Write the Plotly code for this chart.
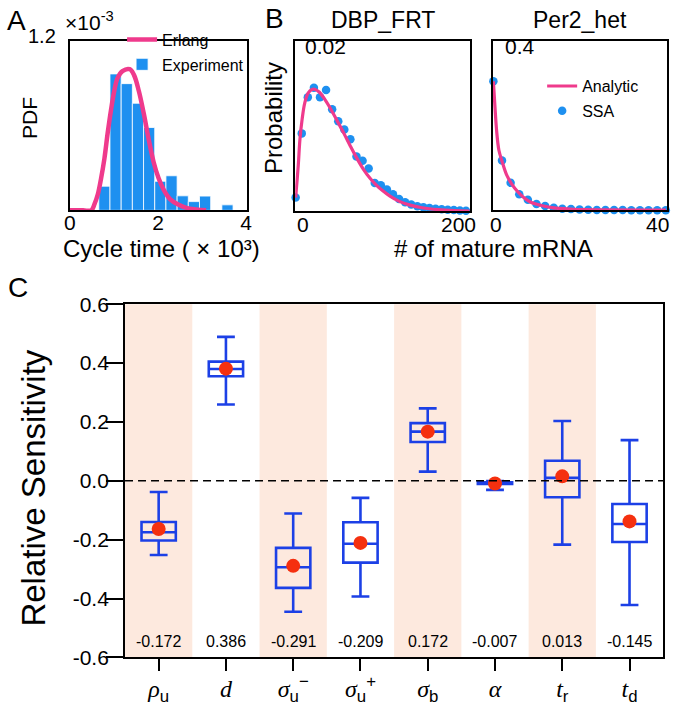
import plotly.graph_objects as go

W, H = 677, 709
FONT = "Liberation Sans, Arial, Helvetica, sans-serif"
SERIF = "Liberation Serif, Times New Roman, serif"

# ---------------- Panel A data (cycle time, x10^3) ----------------
hist_centers = [0.782, 1.036, 1.290, 1.544, 1.798, 2.052, 2.306, 2.560, 2.814, 3.068, 3.322, 3.576]
hist_pdf = [0.171, 0.967, 0.898, 0.759, 0.587, 0.206, 0.245, 0.103, 0.062, 0.101, 0.0, 0.039]
hist_binwidth = 0.254
erlang_x = [0.0, 0.30, 0.484, 0.559, 0.633, 0.708, 0.782, 0.857, 0.931, 1.006, 1.080, 1.192,
            1.356, 1.453, 1.564, 1.676, 1.788, 1.899, 2.011, 2.123, 2.272, 2.458, 2.644, 2.868, 3.091]
erlang_pdf = [0.0, 0.0, 0.0, 0.046, 0.114, 0.229, 0.366, 0.549, 0.709, 0.846, 0.937, 0.987,
              1.0, 0.960, 0.846, 0.686, 0.503, 0.343, 0.229, 0.149, 0.080, 0.041, 0.018, 0.007, 0.0]
a_xtickvals = [0, 2, 4]

# ---------------- Panel B data ----------------
dbp_ssa_n = [0, 7, 14, 21, 28, 35, 42, 49, 56, 63, 70, 77, 84, 91, 98, 105, 112, 119, 126,
             133, 140, 147, 154, 161, 168, 175, 182, 189, 196]
dbp_ssa_p = [0.00163, 0.00920, 0.01345, 0.01458, 0.01345, 0.01432, 0.01205, 0.01064, 0.00966,
             0.00852, 0.00648, 0.00598, 0.00504, 0.00333, 0.00307, 0.00258, 0.00201, 0.00144,
             0.00106, 0.00080, 0.00061, 0.00049, 0.00038, 0.00030, 0.00023, 0.00019, 0.00015,
             0.00011, 0.00008]
dbp_an_n = [0, 3.0, 4.9, 7.5, 10.5, 14.3, 18.8, 22.5, 27.4, 33.0, 40.5, 48.0, 55.5, 63.0, 70.5,
            78.0, 85.6, 93.1, 100.6, 108.1, 119.3, 130.6, 145.6, 164.4, 183.1, 200]
dbp_an_p = [0.00163, 0.00542, 0.00845, 0.01091, 0.01280, 0.01394, 0.01439, 0.01439, 0.01405,
            0.01330, 0.01205, 0.01064, 0.00920, 0.00769, 0.00625, 0.00496, 0.00390, 0.00307,
            0.00239, 0.00182, 0.00117, 0.00076, 0.00042, 0.00019, 0.00008, 0.00004]
dbp_xtickvals = [0, 200]
dbp_xticktext = ["0", "200"]

per2_ssa_n = [0, 2, 4, 6, 8, 10, 12, 14, 16, 18, 20, 22, 24, 26, 28, 30, 32, 34, 36, 38, 40]
per2_ssa_p = [0.305, 0.118, 0.065, 0.038, 0.025, 0.015, 0.010, 0.006, 0.004, 0.003, 0.002,
              0.0015, 0.001, 0.001, 0.0008, 0.0006, 0.0005, 0.0004, 0.0003, 0.0003, 0.0002]
per2_an_n = [0, 0.38, 0.75, 1.28, 2.04, 3.02, 4.15, 5.66, 7.17, 8.68, 10.9, 13.96, 17.7, 21.5, 40]
per2_an_p = [0.305, 0.242, 0.188, 0.142, 0.115, 0.085, 0.064, 0.044, 0.029, 0.019, 0.012,
             0.006, 0.003, 0.0015, 0.0008]
per2_xtickvals = [0, 40]
per2_xticktext = ["0", "40"]

# ---------------- Panel C data ----------------
param_labels = [
    f'<span style="font-family:{SERIF}"><i>ρ</i></span><sub>u</sub>',
    f'<span style="font-family:{SERIF}"><i>d</i></span>',
    f'<span style="font-family:{SERIF}"><i>σ</i></span><sub>u</sub><sup>−</sup>',
    f'<span style="font-family:{SERIF}"><i>σ</i></span><sub>u</sub><sup>+</sup>',
    f'<span style="font-family:{SERIF}"><i>σ</i></span><sub>b</sub>',
    f'<span style="font-family:{SERIF}"><i>α</i></span>',
    f'<span style="font-family:{SERIF}"><i>t</i></span><sub>r</sub>',
    f'<span style="font-family:{SERIF}"><i>t</i></span><sub>d</sub>',
]
sens_upper = [-0.038, 0.489, -0.111, -0.058, 0.246, -0.001, 0.203, 0.138]
sens_q3 = [-0.140, 0.405, -0.228, -0.141, 0.196, -0.005, 0.068, -0.079]
sens_median = [-0.175, 0.380, -0.294, -0.214, 0.167, -0.008, 0.010, -0.147]
sens_q1 = [-0.203, 0.355, -0.364, -0.278, 0.132, -0.011, -0.056, -0.208]
sens_lower = [-0.252, 0.259, -0.445, -0.393, 0.031, -0.031, -0.217, -0.422]
sens_mean = [-0.164, 0.381, -0.289, -0.211, 0.167, -0.009, 0.015, -0.138]
sens_text = ["-0.172", "0.386", "-0.291", "-0.209", "0.172", "-0.007", "0.013", "-0.145"]
c_ytickvals = [-0.6, -0.4, -0.2, 0.0, 0.2, 0.4, 0.6]
c_yticktext = ["-0.6", "-0.4", "-0.2", "0.0", "0.2", "0.4", "0.6"]

PINK = "#ef3a8c"
SKY = "#1e90f0"
BOXBLUE = "#1c40e6"
RED = "#f5300f"
PEACH = "#fde9de"


def px(x):
    return x / W


def py(y):
    return 1 - y / H


fig = go.Figure()

# Panel A
fig.add_trace(go.Bar(x=hist_centers, y=hist_pdf, width=hist_binwidth, name="Experiment",
                     marker=dict(color=SKY, line=dict(color="white", width=0.8)),
                     xaxis="x", yaxis="y", legend="legend", legendrank=2, legendgroup="exp"))
fig.add_trace(go.Scatter(x=erlang_x, y=erlang_pdf, mode="lines", name="Erlang",
                         line=dict(color=PINK, width=4.5, shape="spline"), cliponaxis=False,
                         xaxis="x", yaxis="y", legend="legend", legendrank=1, legendgroup="erl"))

# Panel B
fig.add_trace(go.Scatter(x=dbp_ssa_n, y=dbp_ssa_p, mode="markers", showlegend=False,
                         marker=dict(color=SKY, size=8.5), cliponaxis=False, xaxis="x2", yaxis="y2"))
fig.add_trace(go.Scatter(x=dbp_an_n, y=dbp_an_p, mode="lines", showlegend=False,
                         line=dict(color=PINK, width=3.2, shape="spline"), cliponaxis=False,
                         xaxis="x2", yaxis="y2"))
fig.add_trace(go.Scatter(x=per2_ssa_n, y=per2_ssa_p, mode="markers", name="SSA",
                         marker=dict(color=SKY, size=8.5), cliponaxis=False,
                         xaxis="x3", yaxis="y3", legend="legend2", legendrank=2, legendgroup="ssa"))
fig.add_trace(go.Scatter(x=per2_an_n, y=per2_an_p, mode="lines", name="Analytic",
                         line=dict(color=PINK, width=3.2, shape="spline"), cliponaxis=False,
                         xaxis="x3", yaxis="y3", legend="legend2", legendrank=1, legendgroup="ana"))

# Panel C
pos = list(range(len(param_labels)))
fig.add_trace(go.Box(x=pos, q1=sens_q1, median=sens_median, q3=sens_q3,
                     lowerfence=sens_lower, upperfence=sens_upper,
                     width=0.51, whiskerwidth=0.52, boxpoints=False,
                     fillcolor="rgba(0,0,0,0)", line=dict(color=BOXBLUE, width=2.6),
                     showlegend=False, hoverinfo="skip", xaxis="x4", yaxis="y4"))
fig.add_trace(go.Scatter(x=pos, y=sens_mean, mode="markers", showlegend=False,
                         marker=dict(color=RED, size=14), xaxis="x4", yaxis="y4"))

# shaded bands for alternate parameters
for i in pos[::2]:
    fig.add_shape(type="rect", xref="x4", yref="y4 domain", x0=i - 0.5, x1=i + 0.5, y0=0, y1=1,
                  fillcolor=PEACH, line_width=0, layer="below")
fig.add_shape(type="line", xref="x4 domain", yref="y4", x0=0, x1=1, y0=0, y1=0,
              line=dict(color="black", width=1.6, dash="8px,5px"), layer="above")

frame = dict(showline=True, mirror=True, linecolor="black", linewidth=2, showgrid=False,
             zeroline=False)

fig.update_layout(
    width=W, height=H, margin=dict(l=0, r=0, t=0, b=0),
    paper_bgcolor="white", plot_bgcolor="white",
    font=dict(family=FONT, color="black"),
    xaxis=dict(domain=[px(65), px(245)], range=[0, 4.02], tickvals=a_xtickvals, ticks="",
               tickfont=dict(size=21), ticklabelstandoff=-8, anchor="y", **frame),
    yaxis=dict(domain=[py(205), py(30)], range=[0, 1.2], showticklabels=False, ticks="",
               anchor="x", **frame),
    xaxis2=dict(domain=[px(294), px(472)], range=[-0.5, 201], tickvals=dbp_xtickvals,
                showticklabels=False, ticks="", anchor="y2", **frame),
    yaxis2=dict(domain=[py(206), py(30)], range=[0, 0.0201], showticklabels=False, ticks="",
                anchor="x2", **frame),
    xaxis3=dict(domain=[px(495), px(672)], range=[-0.1, 40.3], tickvals=per2_xtickvals,
                showticklabels=False, ticks="", anchor="y3", **frame),
    yaxis3=dict(domain=[py(205), py(30)], range=[0, 0.4], showticklabels=False, ticks="",
                anchor="x3", **frame),
    xaxis4=dict(domain=[px(121), px(668)], range=[-0.5, 7.5], tickvals=pos, ticktext=param_labels,
                ticks="outside", ticklen=12, tickwidth=2, tickcolor="black",
                tickfont=dict(size=24), ticklabelstandoff=-3, anchor="y4", **frame),
    yaxis4=dict(domain=[py(667), py(302)], range=[-0.6, 0.6], tickvals=c_ytickvals,
                ticktext=c_yticktext, ticks="outside", ticklen=17, tickwidth=2, tickcolor="black",
                tickfont=dict(size=21), ticklabelstandoff=-7, anchor="x4", **frame),
    legend=dict(x=px(118), y=py(11), xanchor="left", yanchor="top", font=dict(size=16),
                bgcolor="rgba(0,0,0,0)", tracegroupgap=1, traceorder="grouped"),
    legend2=dict(x=px(545), y=py(59), xanchor="left", yanchor="top", font=dict(size=16),
                 bgcolor="rgba(0,0,0,0)", tracegroupgap=1, traceorder="grouped"),
)

ann = []


def text(x, y, s, size, angle=0, xanchor="center", yanchor="middle", family=FONT):
    ann.append(dict(x=px(x), y=py(y), xref="paper", yref="paper", text=s, showarrow=False,
                    xanchor=xanchor, yanchor=yanchor, textangle=angle,
                    font=dict(size=size, family=family, color="black")))


# B tick labels (placed on the axis scale, nudged inward like the original)
for xref, vals, labels, shifts in (("x2", dbp_xtickvals, dbp_xticktext, (7, -11)),
                                   ("x3", per2_xtickvals, per2_xticktext, (3, -8))):
    for v, s, sh in zip(vals, labels, shifts):
        ann.append(dict(x=v, y=py(220), xref=xref, yref="paper", text=s, showarrow=False,
                        xshift=sh, xanchor="center", yanchor="middle",
                        font=dict(size=21, family=FONT, color="black")))

# panel letters
text(11, 9, "A", 28)
text(273, 7, "B", 28)
text(12, 285, "C", 28)
# panel A extras
text(58, 9, "×10<sup>-3</sup>", 21, xanchor="left")
text(53, 25, "1.2", 20, xanchor="right")
text(24, 110, "PDF", 21, angle=-90)
text(158, 244, "Cycle time ( × 10³)", 24)
# panel B extras
text(383, 8, "DBP_FRT", 23)
text(583, 8, "Per2_het", 23)
text(302, 36, "0.02", 21, xanchor="left")
text(505, 36, "0.4", 21, xanchor="left")
text(272, 110, "Probability", 24, angle=-90)
text(496, 244, "# of mature mRNA", 24)
# panel C extras
text(27, 492, "Relative Sensitivity", 33, angle=-90)
for i, s in enumerate(sens_text):
    ann.append(dict(x=i, y=-0.545, xref="x4", yref="y4", text=s, showarrow=False,
                    font=dict(size=16, family=FONT, color="black")))

fig.update_layout(annotations=ann)

fig.write_html("out.html", config={"displayModeBar": False},
               post_script="document.body.style.margin='0px';")
